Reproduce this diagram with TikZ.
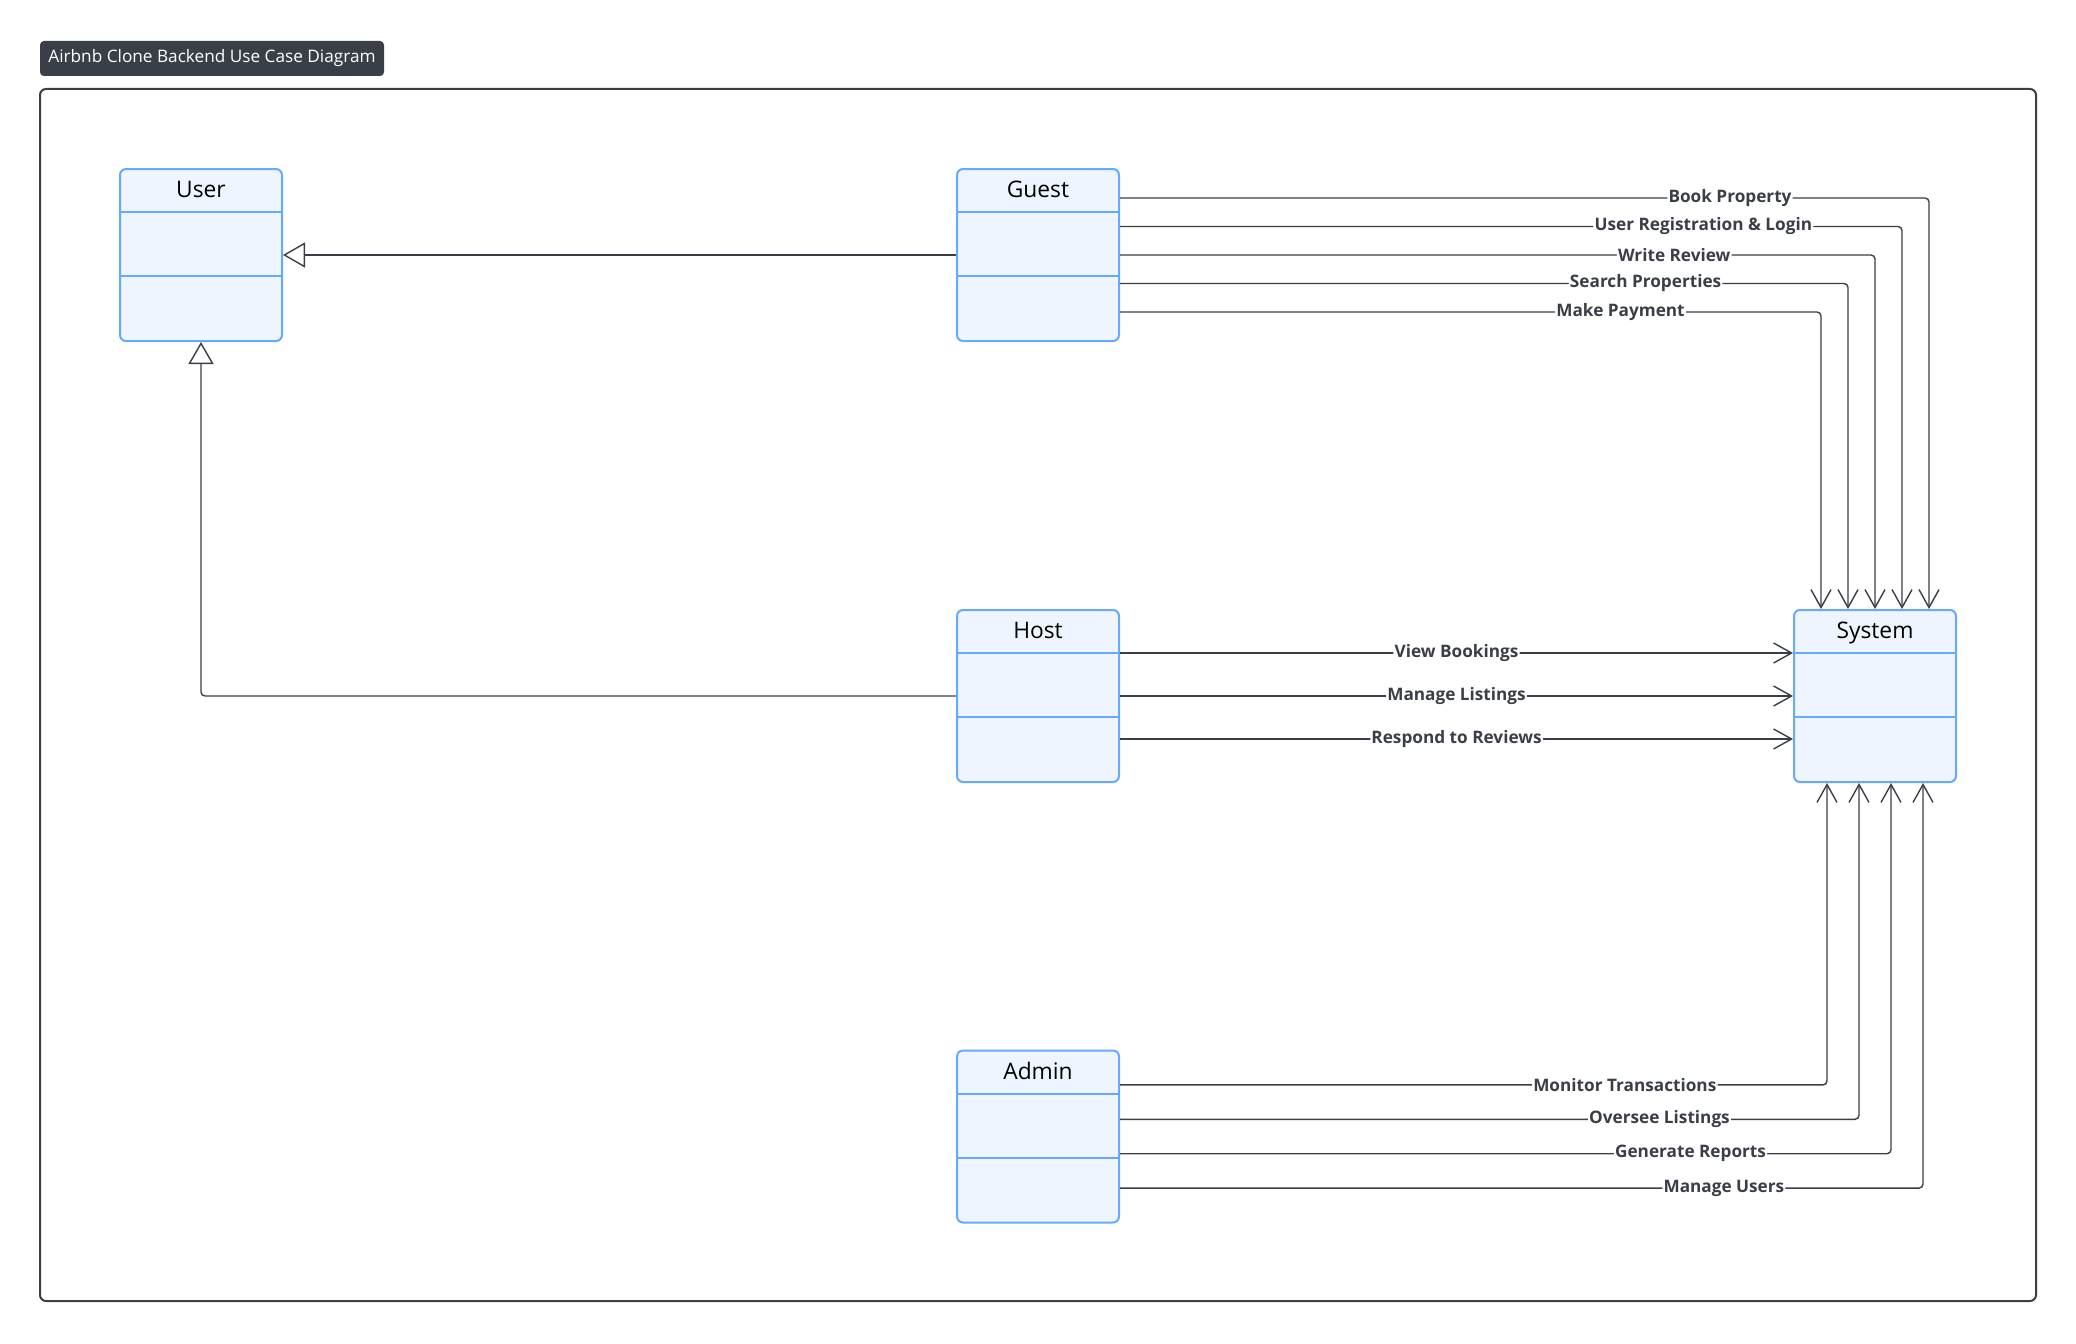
\documentclass[tikz,border=0pt]{standalone}
\usepackage{fontspec}
\setmainfont{Open Sans}
\usetikzlibrary{arrows.meta,calc}
\definecolor{boxblue}{HTML}{66AAFF}
\definecolor{boxfill}{HTML}{EEF5FF}
\definecolor{ink}{HTML}{3A3F47}
\tikzstyle{classbox}=[draw=boxblue, fill=boxfill, line width=1pt, rounded corners=3pt, minimum width=81pt, minimum height=86pt, inner sep=0pt,
  path picture={\draw[boxblue, line width=1pt] ([yshift=-21.5pt]path picture bounding box.north west) -- ([yshift=-21.5pt]path picture bounding box.north east);
                \draw[boxblue, line width=1pt] ([yshift=-53.5pt]path picture bounding box.north west) -- ([yshift=-53.5pt]path picture bounding box.north east);}]
\tikzstyle{classname}=[font=\fontsize{11.4}{13}\selectfont, text=black, inner sep=0pt, anchor=base]

\begin{document}
\begin{tikzpicture}[x=0.5pt, y=-0.5pt,
  conn/.style={draw=ink, line width=0.7pt, rounded corners=2pt},
  usecase/.style={conn, -{Straight Barb[length=9pt, width=10pt]}},
  gen/.style={conn, -{Triangle[length=11pt, width=12.5pt, fill=white]}},
  lbl/.style={fill=white, text=ink, font=\bfseries\fontsize{8.6}{10}\selectfont, inner sep=0.6pt}]
\fill[white] (0,0) rectangle (2076,1343);
\useasboundingbox (0,0) rectangle (2076,1343);
\node (title) at (212,58.5) [fill=ink, text=white, rounded corners=2pt, minimum width=172pt, minimum height=17.5pt, inner sep=0pt, font=\fontsize{8.6}{10}\selectfont] {Airbnb Clone Backend Use Case Diagram};
\draw[ink, line width=1pt, rounded corners=3pt] (40,89) rectangle (2036,1301);

\node (user) at (201,255) [classbox] {};
\node (usern) at ([yshift=-14.75pt]user.north) [classname] {User};
\node (guest) at (1038,255) [classbox] {};
\node (guestn) at ([yshift=-14.75pt]guest.north) [classname] {Guest};
\node (host) at (1038,696) [classbox] {};
\node (hostn) at ([yshift=-14.75pt]host.north) [classname] {Host};
\node (admin) at (1038,1136.5) [classbox] {};
\node (adminn) at ([yshift=-14.75pt]admin.north) [classname] {Admin};
\node (system) at (1875,696) [classbox] {};
\node (systemn) at ([yshift=-14.75pt]system.north) [classname] {System};

\draw[gen] (guest.west) -- (user.east);
\draw[gen] (host.west) -| (user.south);

\draw[usecase] ([yshift=28.5pt]guest.east) -| node[lbl, pos=0.377] {Book Property} ([xshift=27pt]system.north);
\draw[usecase] ([yshift=14.25pt]guest.east) -| node[lbl, pos=0.373] {User Registration \& Login} ([xshift=13.5pt]system.north);
\draw[usecase] (guest.east) -| node[lbl, pos=0.367] {Write Review} (system.north);
\draw[usecase] ([yshift=-14.25pt]guest.east) -| node[lbl, pos=0.361] {Search Properties} ([xshift=-13.5pt]system.north);
\draw[usecase] ([yshift=-28.5pt]guest.east) -| node[lbl, pos=0.357] {Make Payment} ([xshift=-27pt]system.north);

\draw[usecase] ([yshift=21.5pt]host.east) -- node[lbl] {View Bookings} ([yshift=21.5pt]system.west);
\draw[usecase] (host.east) -- node[lbl] {Manage Listings} (system.west);
\draw[usecase] ([yshift=-21.5pt]host.east) -- node[lbl] {Respond to Reviews} ([yshift=-21.5pt]system.west);

\draw[usecase] ([yshift=25.8pt]admin.east) -| node[lbl, pos=0.357] {Monitor Transactions} ([xshift=-24pt]system.south);
\draw[usecase] ([yshift=8.6pt]admin.east) -| node[lbl, pos=0.365] {Oversee Listings} ([xshift=-8pt]system.south);
\draw[usecase] ([yshift=-8.6pt]admin.east) -| node[lbl, pos=0.370] {Generate Reports} ([xshift=8pt]system.south);
\draw[usecase] ([yshift=-25.8pt]admin.east) -| node[lbl, pos=0.376] {Manage Users} ([xshift=24pt]system.south);
\end{tikzpicture}
\end{document}
